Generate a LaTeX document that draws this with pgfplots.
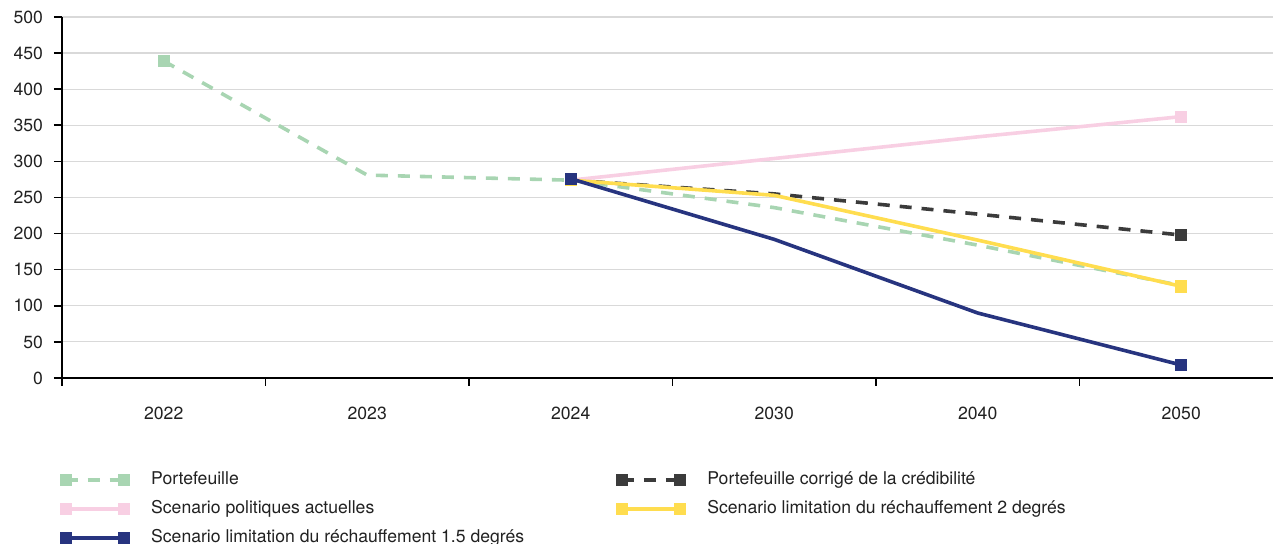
\documentclass[border=0pt]{standalone}
\usepackage{fontspec}
\setmainfont{TeX Gyre Heros}
\usepackage{pgfplots}
\pgfplotsset{compat=1.18}

\definecolor{cgreen}{HTML}{A8D5B2}
\definecolor{cdark}{HTML}{3B3B3B}
\definecolor{cpink}{HTML}{F8CFE3}
\definecolor{cyellow}{HTML}{FFDD4F}
\definecolor{cblue}{HTML}{27347F}
\definecolor{cgrid}{HTML}{D9D9D9}

\pgfplotsset{
  serie/.style={line width=1.8pt, mark=square*, mark size=2.8pt,
    mark options={solid, line width=0.4pt}},
  tirets/.style={dash pattern=on 6pt off 5pt},
}

\begin{document}
\begin{tikzpicture}[font=\fontsize{8.8}{10.5}\selectfont]
\begin{axis}[
  name=ax,
  scale only axis,
  width=605.5pt, height=180.5pt,
  xmin=-0.5, xmax=5.451,
  ymin=0, ymax=500,
  axis x line*=bottom, axis y line*=left,
  axis line style={black, line width=0.8pt},
  tick align=outside,
  major tick length=4pt,
  tick style={black, line width=0.8pt},
  ytick={0,50,...,500},
  ymajorgrids, grid style={cgrid, line width=0.6pt},
  xtick={-0.5,0.5,1.5,2.5,3.5,4.5}, xticklabels={},
  extra x ticks={0,1,2,3,4,5},
  extra x tick labels={2022,2023,2024,2030,2040,2050},
  extra x tick style={major tick length=0pt, xticklabel style={yshift=-11pt}},
  ticklabel style={font=\fontsize{8.8}{10.5}\selectfont, text=black!87},
  /pgf/number format/assume math mode=true,
  yticklabel style={xshift=-2pt},
  legend columns=2,
  legend cell align=left,
  legend style={at={(rel axis cs:0,0)}, anchor=north west,
    xshift=-1pt, yshift=-46.75pt, draw=none, fill=none,
    inner sep=0pt, outer sep=0pt, column sep=11pt, row sep=6pt,
    font=\fontsize{8.8}{10.5}\selectfont, text=black!87,
    nodes={inner sep=0pt, text height=6.5pt, text depth=2pt}},
  legend image code/.code={
    \draw[#1, mark indices={1,2}] plot coordinates {(0pt,0pt) (29pt,0pt)};
  },
]

\addplot[serie, tirets, cgreen, mark indices={1,6}]
  coordinates {(0,439)(1,281)(2,274)(3,236)(4,184)(5,128)};
\addlegendentry{\makebox[221.5pt][l]{Portefeuille}}

\addplot[serie, tirets, cdark, mark indices={1,4}]
  coordinates {(2,274)(3,255)(4,227)(5,198)};
\addlegendentry{Portefeuille corrigé de la crédibilité}

\addplot[serie, cpink, mark indices={1,4}]
  coordinates {(2,274)(3,304)(4,334)(5,362)};
\addlegendentry{\makebox[221.5pt][l]{Scenario politiques actuelles}}

\addplot[serie, cyellow, mark indices={1,4}]
  coordinates {(2,274)(3,253)(4,191)(5,127)};
\addlegendentry{Scenario limitation du réchauffement 2 degrés}

\addplot[serie, cblue, mark indices={1,4}]
  coordinates {(2,276)(3,192)(4,90)(5,18)};
\addlegendentry{\makebox[221.5pt][l]{Scenario limitation du réchauffement 1.5 degrés}}

\end{axis}
\pgfresetboundingbox
\path ([shift={(-31pt,-83pt)}]ax.south west) rectangle ([shift={(0pt,8.5pt)}]ax.north east);
\end{tikzpicture}
\end{document}
